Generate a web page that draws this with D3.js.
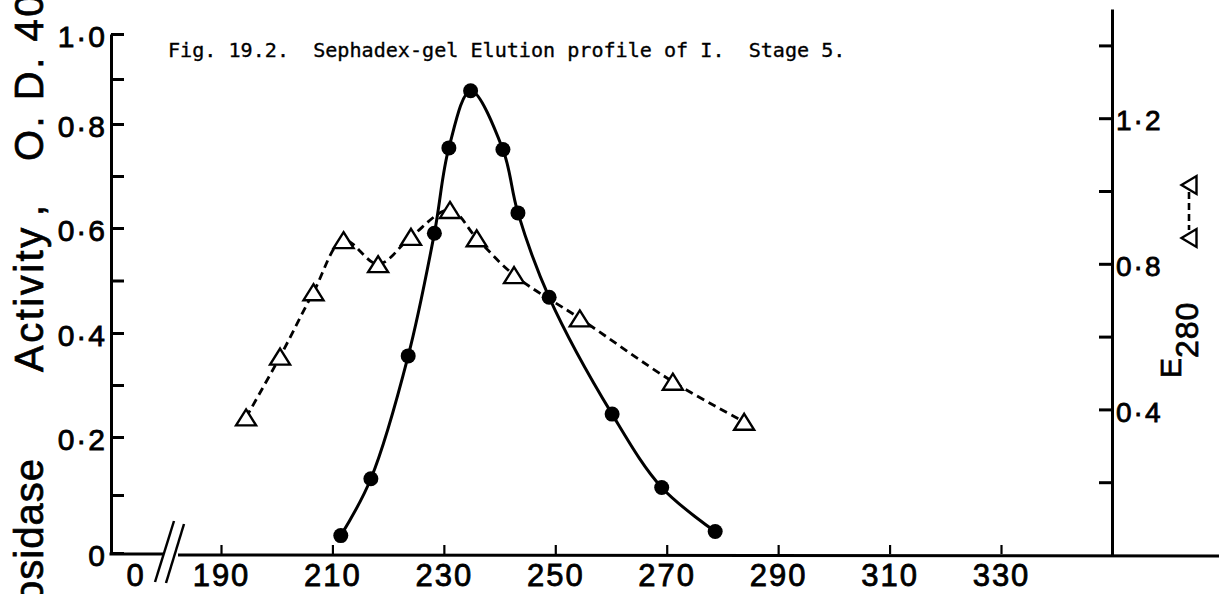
<!DOCTYPE html>
<html>
<head>
<meta charset="utf-8">
<script src="https://cdn.jsdelivr.net/npm/d3@7"></script>
<style>
  html, body { margin: 0; padding: 0; background: #fff; }
  svg { display: block; }
  .lbl { font-family: "Liberation Sans", Arial, sans-serif; fill: #000; }
  .title { font-family: "DejaVu Sans Mono", monospace; font-size: 20.1px; white-space: pre; fill: #000; }
</style>
</head>
<body>
<svg id="chart" width="1219" height="594"></svg>
<script>
// Elution fraction numbers and measured values
const activityFractions = [211.5, 216.9, 223.6, 228.3, 230.9, 234.8, 240.6, 243.3, 248.9, 260.2, 269.1, 278.7];
const activityValues    = [0.030, 0.128, 0.356, 0.590, 0.754, 0.874, 0.751, 0.629, 0.468, 0.244, 0.113, 0.037];

const e280Fractions = [194.5, 200.6, 206.6, 212.0, 218.2, 224.1, 231.1, 235.9, 242.6, 254.4, 271.1, 283.9];
const e280Values    = [0.378, 0.545, 0.722, 0.865, 0.799, 0.874, 0.948, 0.870, 0.769, 0.650, 0.476, 0.366];

const xTicks = [190, 210, 230, 250, 270, 290, 310, 330];
const leftTicks = [0, 0.1, 0.2, 0.3, 0.4, 0.5, 0.6, 0.7, 0.8, 0.9, 1.0];
const leftLabelled = [0, 0.2, 0.4, 0.6, 0.8, 1.0];
const rightTicks = [0.2, 0.4, 0.6, 0.8, 1.0, 1.2, 1.4];
const rightLabelled = [0.4, 0.8, 1.2];

const titleText = "Fig. 19.2.  Sephadex-gel Elution profile of I.  Stage 5.";

const svg = d3.select("#chart");

// Scales (the left ordinate of the original drawing is slightly uneven)
const x = d3.scaleLinear().domain([190, 330]).range([221, 1001]);
const yL = d3.scaleLinear().domain([0, 0.2, 0.4, 0.6, 0.8, 1.0]).range([553, 437, 333, 228, 124, 34]);
const yR = d3.scaleLinear().domain([0, 1.5]).range([555, 9]);

const axisLeftX = 111, axisRightX = 1112, axisY = 554;

const dotFmt = d => d === 0 ? "0" : d3.format(".1f")(d).replace(".", "\u00B7");

// Left ordinate: glucosidase activity
const gL = svg.append("g").attr("transform", `translate(${axisLeftX},0)`)
  .call(d3.axisLeft(yL).tickValues(leftTicks).tickSizeInner(-13).tickSizeOuter(0).tickPadding(4)
    .tickFormat(d => leftLabelled.some(v => Math.abs(v - d) < 1e-9) ? dotFmt(d) : ""));

// Right ordinate: E280
const gR = svg.append("g").attr("transform", `translate(${axisRightX},0)`)
  .call(d3.axisRight(yR).tickValues(rightTicks).tickSizeInner(-13).tickSizeOuter(0).tickPadding(4)
    .tickFormat(d => rightLabelled.some(v => Math.abs(v - d) < 1e-9) ? dotFmt(d) : ""));

// Abscissa: fraction number
const gB = svg.append("g").attr("transform", `translate(0,${axisY})`)
  .call(d3.axisBottom(x).tickValues(xTicks).tickSizeInner(-9).tickSizeOuter(0).tickPadding(10)
    .tickFormat(d3.format("d")));
gB.select(".domain").remove();

[gL, gR, gB].forEach(g => {
  g.select(".domain").attr("stroke", "#000").attr("stroke-width", 3);
  g.selectAll(".tick line").attr("stroke", "#000").attr("stroke-width", 3);
  g.selectAll(".tick text").attr("class", "lbl").attr("font-size", 30)
    .attr("letter-spacing", 2).attr("stroke", "#000").attr("stroke-width", 0.8).attr("fill", "#000");
});
gB.selectAll(".tick line").attr("stroke-width", 2.2);
gB.selectAll(".tick text").attr("font-size", 31);
gR.selectAll(".tick text").attr("font-size", 28).attr("dy", "0.42em");
gL.selectAll(".tick text").attr("dy", "0.42em");

// Baseline with a scale break after the origin
svg.append("line").attr("x1", axisLeftX - 1.5).attr("x2", 164).attr("y1", axisY).attr("y2", axisY)
  .attr("stroke", "#000").attr("stroke-width", 3);
svg.append("line").attr("x1", 178).attr("x2", 1219).attr("y1", axisY + 1).attr("y2", axisY + 2)
  .attr("stroke", "#000").attr("stroke-width", 3);
[[155, 582, 174, 521], [166, 583, 184, 524]].forEach(([x1, y1, x2, y2]) =>
  svg.append("line").attr("x1", x1).attr("y1", y1).attr("x2", x2).attr("y2", y2)
    .attr("stroke", "#000").attr("stroke-width", 2.5));
svg.append("text").attr("class", "lbl").attr("x", 135).attr("y", 586)
  .attr("text-anchor", "middle").attr("font-size", 31).attr("stroke", "#000").attr("stroke-width", 0.8)
  .text("0");

// E280 profile: dashed curve with open triangles
const e280Data = e280Fractions.map((f, i) => ({ f, v: e280Values[i] }));
svg.append("path").datum(e280Data)
  .attr("d", d3.line().x(d => x(d.f)).y(d => yR(d.v)).curve(d3.curveCatmullRom.alpha(0.5)))
  .attr("fill", "none").attr("stroke", "#000").attr("stroke-width", 2.8)
  .attr("stroke-dasharray", "8,5");

// Activity profile: solid curve with filled circles
const actData = activityFractions.map((f, i) => ({ f, v: activityValues[i] }));
svg.append("path").datum(actData)
  .attr("d", d3.line().x(d => x(d.f)).y(d => yL(d.v)).curve(d3.curveCatmullRom.alpha(0.5)))
  .attr("fill", "none").attr("stroke", "#000").attr("stroke-width", 3);

const tri = (cx, cy, w, h) => `M${cx},${cy - h / 2}L${cx + w / 2},${cy + h / 2}L${cx - w / 2},${cy + h / 2}Z`;

svg.append("g").selectAll("path").data(e280Data).join("path")
  .attr("d", d => tri(x(d.f), yR(d.v), 20, 16))
  .attr("fill", "#fff").attr("stroke", "#000").attr("stroke-width", 2.4).attr("stroke-linejoin", "miter");

svg.append("g").selectAll("circle").data(actData).join("circle")
  .attr("cx", d => x(d.f)).attr("cy", d => yL(d.v)).attr("r", 7.5).attr("fill", "#000");

// Title
svg.append("text").attr("class", "title").attr("x", 168).attr("y", 57)
  .attr("stroke", "#000").attr("stroke-width", 0.35).text(titleText);

// Left ordinate title, drawn vertically in pieces
const leftTitle = [
  { t: "Glucosidase", pos: 458, anchor: "end", size: 40, ls: 1 },
  { t: "Activity", pos: 372, anchor: "start", size: 40, ls: 2.5 },
  { t: ",", pos: 216, anchor: "start", size: 40, ls: 0 },
  { t: "O. D. 400", pos: 161, anchor: "start", size: 40, ls: 2.5 }
];
leftTitle.forEach(p => {
  svg.append("text").attr("class", "lbl")
    .attr("transform", `translate(43,${p.pos}) rotate(-90)`)
    .attr("text-anchor", p.anchor).attr("font-size", p.size).attr("letter-spacing", p.ls)
    .attr("stroke", "#000").attr("stroke-width", 0.7)
    .text(p.t);
});

// Right ordinate title E280 with the legend symbol
const eLab = svg.append("text").attr("class", "lbl")
  .attr("transform", "translate(1181,378) rotate(-90)")
  .attr("font-size", 30).attr("stroke", "#000").attr("stroke-width", 0.7);
eLab.append("tspan").text("E");
eLab.append("tspan").attr("dy", 17).attr("font-size", 32).attr("letter-spacing", 1).text("280");

const legX = 1189;
svg.append("line").attr("x1", legX).attr("x2", legX).attr("y1", 192).attr("y2", 230)
  .attr("stroke", "#000").attr("stroke-width", 2.6).attr("stroke-dasharray", "7,4");
[185, 238].forEach(cy => {
  svg.append("path")
    .attr("d", tri(0, 0, 18, 15))
    .attr("transform", `translate(${legX},${cy}) rotate(-90)`)
    .attr("fill", "#fff").attr("stroke", "#000").attr("stroke-width", 2.4);
});
</script>
</body>
</html>
